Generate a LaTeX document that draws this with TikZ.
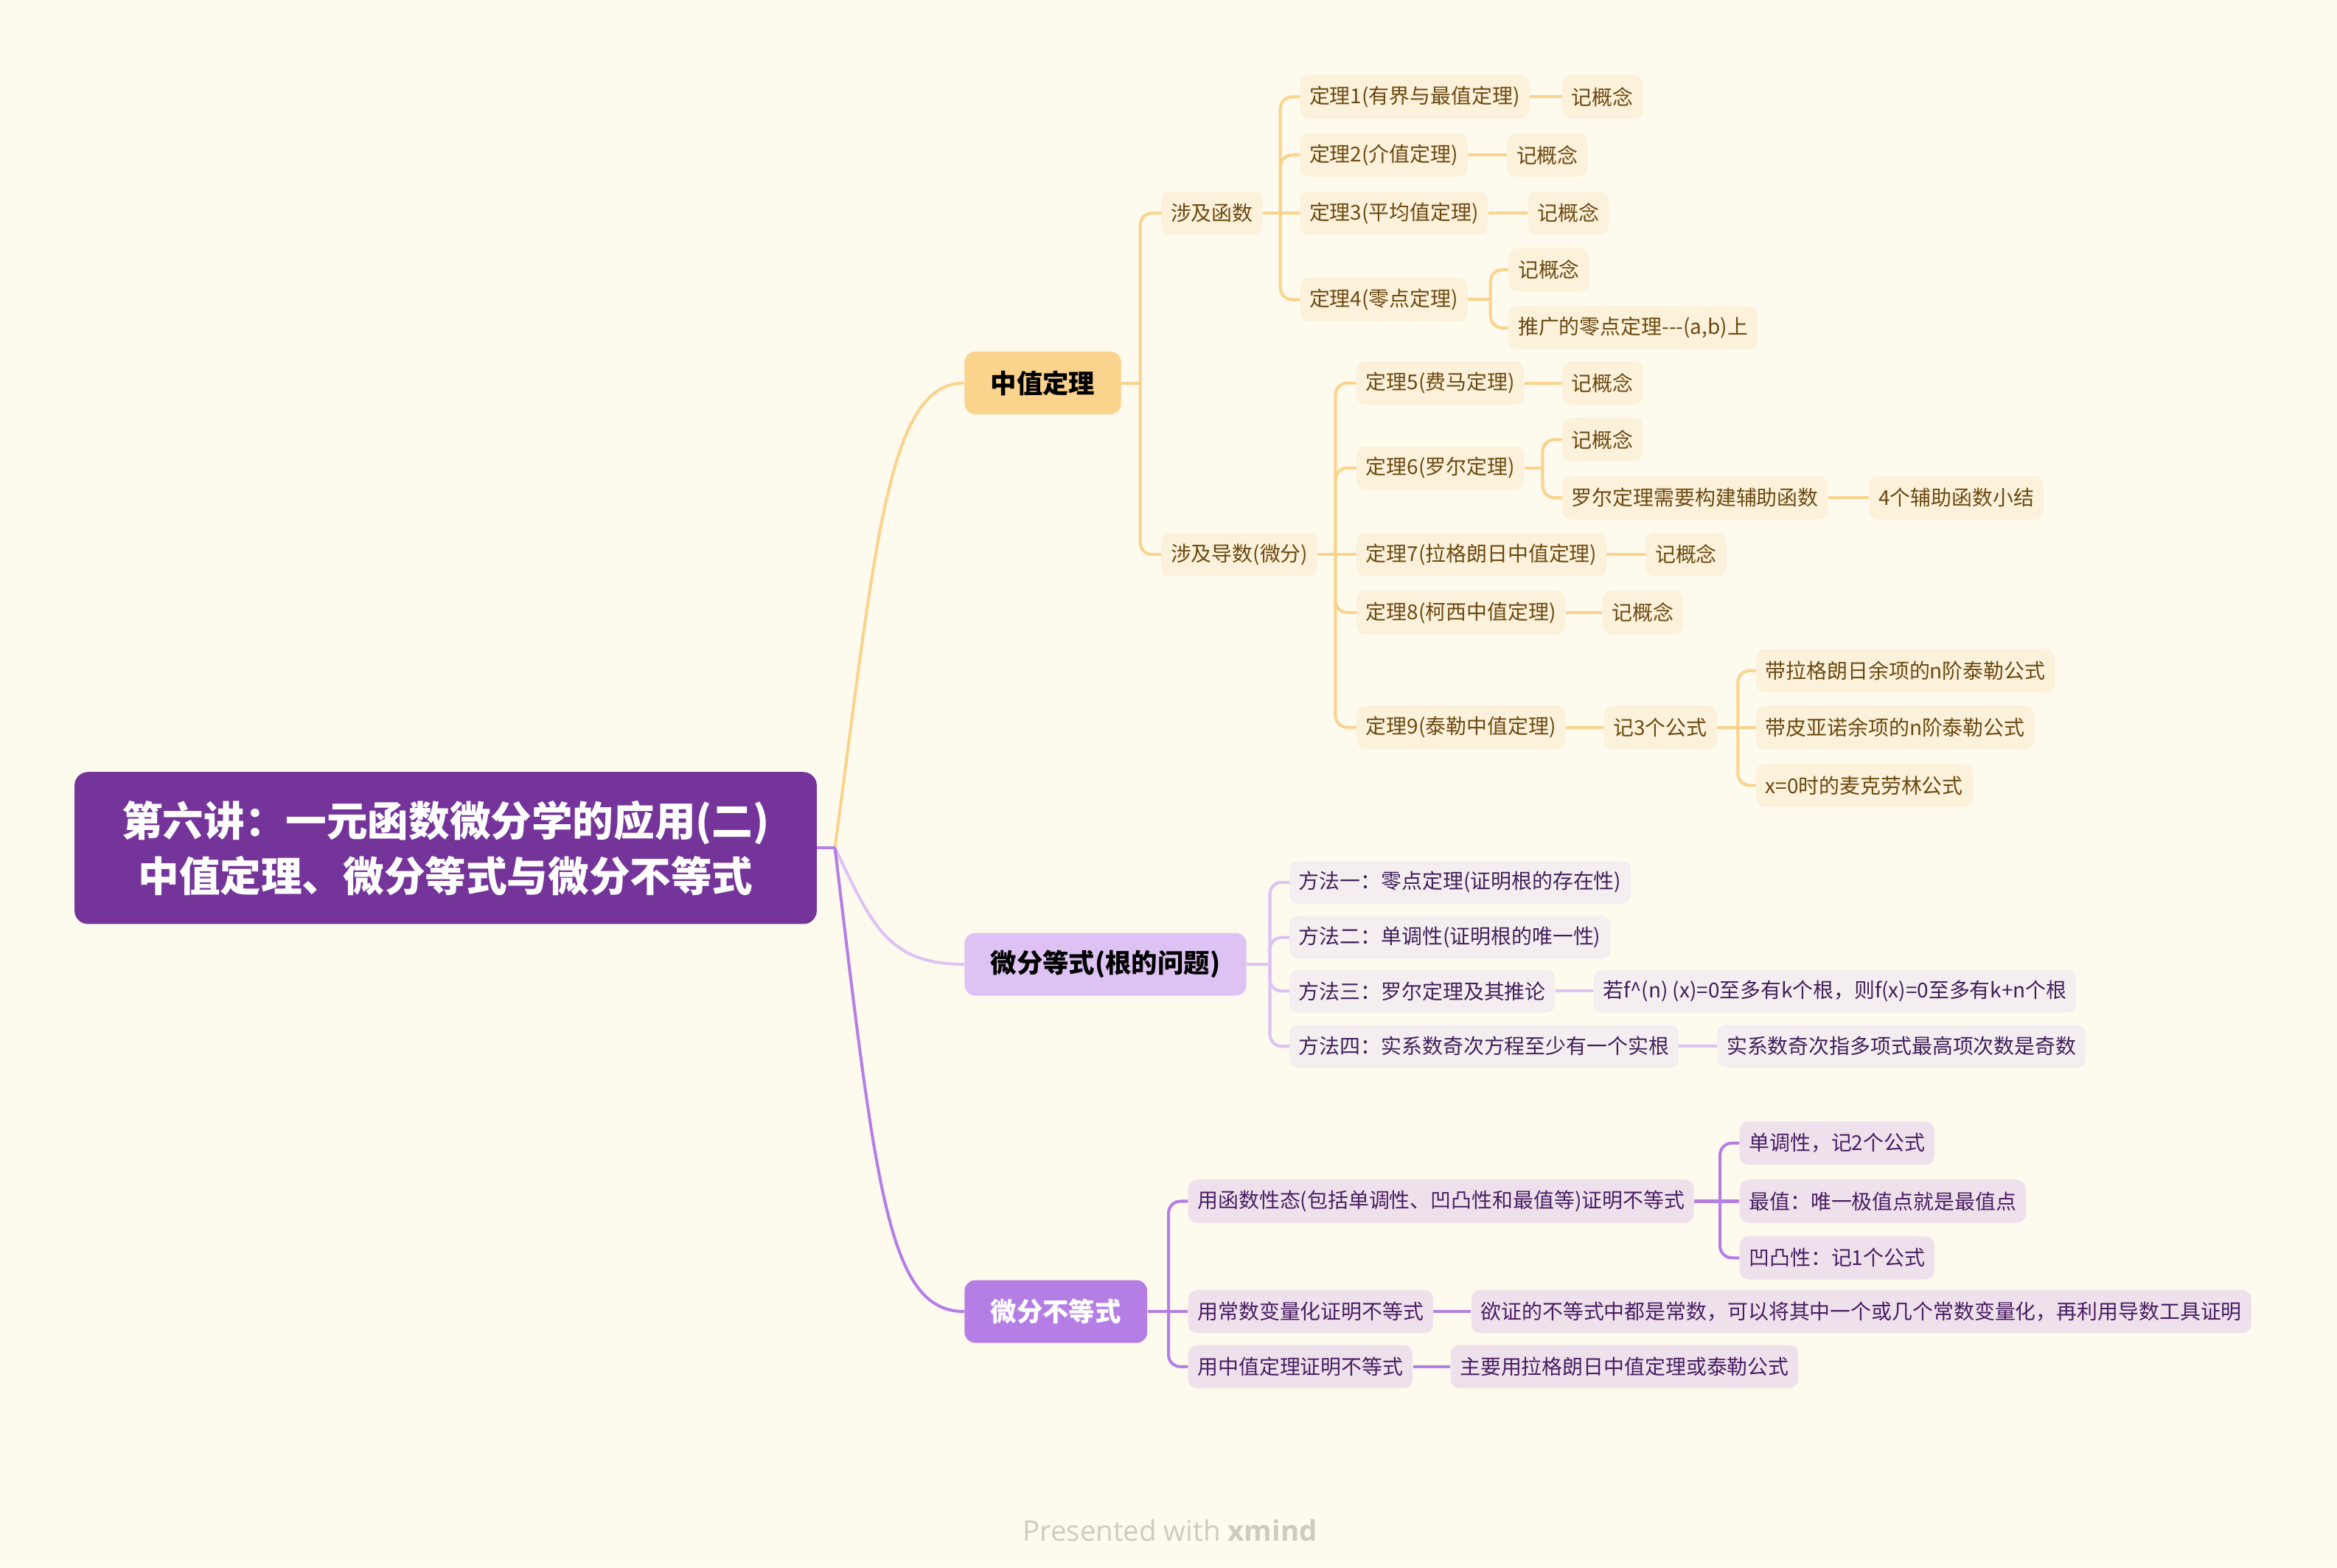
\documentclass[tikz,border=0pt]{standalone}
\usepackage{fontspec}
\setmainfont{Noto Sans CJK SC}
\newfontfamily\wmfont{Open Sans}
\definecolor{bgC}{HTML}{FEFAEE}
\definecolor{rootF}{HTML}{74349A}
\definecolor{mO}{HTML}{FAD38C}
\definecolor{mL}{HTML}{DDC2F3}
\definecolor{mP}{HTML}{B57EE5}
\definecolor{soF}{HTML}{FCF1DA}
\definecolor{soT}{HTML}{6B4A12}
\definecolor{slF}{HTML}{F5EEF1}
\definecolor{slT}{HTML}{40205A}
\definecolor{spF}{HTML}{EEE1EC}
\definecolor{spT}{HTML}{4A1E63}
\definecolor{wmC}{HTML}{CFCBC0}
\begin{document}
\begin{tikzpicture}[x=1pt,y=-1pt,
  every node/.style={inner sep=0pt},
  rootbox/.style={fill=rootF, text=white, rounded corners=9pt, minimum width=498pt, minimum height=102pt, align=center, font=\fontsize{27.5}{37}\selectfont\bfseries},
  mainbox/.style={anchor=west, rounded corners=7pt, minimum height=42pt, inner xsep=17.5pt, font=\fontsize{17.5}{20}\selectfont\bfseries},
  subbox/.style={anchor=west, rounded corners=6pt, minimum height=29pt, inner xsep=6.3pt, font=\fontsize{13.8}{16}\selectfont},
  subO/.style={subbox, fill=soF, text=soT},
  subL/.style={subbox, fill=slF, text=slT},
  subP/.style={subbox, fill=spF, text=spT},
  lnO/.style={draw=mO, line width=2pt},
  lnL/.style={draw=mL, line width=2pt},
  lnP/.style={draw=mP, line width=2pt},
  rc/.style={rounded corners=8pt}
]
\fill[bgC] (0,0) rectangle (1568,1051.6);
\useasboundingbox (0,0) rectangle (1568,1051.6);

% root and main branches
\node[rootbox] (R) at (299,569) {第六讲：一元函数微分学的应用(二)\\中值定理、微分等式与微分不等式};
\node[mainbox, fill=mO, text=black] (A) at (647,257) {中值定理};
\node[mainbox, fill=mL, text=black] (B) at (647,647) {微分等式(根的问题)};
\node[mainbox, fill=mP, text=white] (C) at (647,880) {微分不等式};

\draw[lnO] (R.east) ++(12,0) coordinate (Rj) .. controls (588,360) and (596,257) .. (A.west);
\draw[lnL] (Rj) .. controls (585,620) and (595,647) .. (B.west);
\draw[lnP] (Rj) .. controls (588,800) and (596,880) .. (C.west);
\draw[lnP] (R.east) -- (Rj);

% ---------- 中值定理 ----------
\node[subO] (A1) at (779,143) {涉及函数};
\node[subO] (A2) at (779,372) {涉及导数(微分)};
\path (A1.west) ++(-14,0) coordinate (tA);
\coordinate (jA) at (tA |- A.east);
\draw[lnO] (A.east) -- (jA);
\draw[lnO, rc] (jA) |- (A1.west);
\draw[lnO, rc] (jA) |- (A2.west);

\node[subO] (A11) at (872,65) {定理1(有界与最值定理)};
\node[subO] (A11a) at (1048,65) {记概念};
\node[subO] (A12) at (872,104) {定理2(介值定理)};
\node[subO] (A12a) at (1011,104) {记概念};
\node[subO] (A13) at (872,143) {定理3(平均值定理)};
\node[subO] (A13a) at (1025,143) {记概念};
\node[subO] (A14) at (872,201) {定理4(零点定理)};
\node[subO] (A14a) at (1012,181) {记概念};
\node[subO] (A14b) at (1012,220) {推广的零点定理\mbox{-}\mbox{-}\mbox{-}(a,b)上};

\path (A11.west) ++(-13,0) coordinate (tA1);
\coordinate (jA1) at (tA1 |- A1.east);
\draw[lnO] (A1.east) -- (A13.west);
\draw[lnO, rc] (jA1) |- (A11.west);
\draw[lnO, rc] (jA1) |- (A12.west);
\draw[lnO, rc] (jA1) |- (A14.west);
\draw[lnO] (A11.east) -- (A11a.west);
\draw[lnO] (A12.east) -- (A12a.west);
\draw[lnO] (A13.east) -- (A13a.west);
\path (A14a.west) ++(-12,0) coordinate (tA14);
\coordinate (jA14) at (tA14 |- A14.east);
\draw[lnO] (A14.east) -- (jA14);
\draw[lnO, rc] (jA14) |- (A14a.west);
\draw[lnO, rc] (jA14) |- (A14b.west);

\node[subO] (A21) at (910,257) {定理5(费马定理)};
\node[subO] (A21a) at (1048,257) {记概念};
\node[subO] (A22) at (910,314) {定理6(罗尔定理)};
\node[subO] (A22a) at (1048,295) {记概念};
\node[subO] (A22b) at (1048,334) {罗尔定理需要构建辅助函数};
\node[subO] (A22c) at (1254,334) {4个辅助函数小结};
\node[subO] (A23) at (910,372) {定理7(拉格朗日中值定理)};
\node[subO] (A23a) at (1104,372) {记概念};
\node[subO] (A24) at (910,411) {定理8(柯西中值定理)};
\node[subO] (A24a) at (1075,411) {记概念};
\node[subO] (A25) at (910,488) {定理9(泰勒中值定理)};
\node[subO] (A25a) at (1076,488) {记3个公式};
\node[subO] (A25b1) at (1178,450) {带拉格朗日余项的n阶泰勒公式};
\node[subO] (A25b2) at (1178,488) {带皮亚诺余项的n阶泰勒公式};
\node[subO] (A25b3) at (1178,527) {x=0时的麦克劳林公式};

\path (A21.west) ++(-14,0) coordinate (tA2);
\coordinate (jA2) at (tA2 |- A2.east);
\draw[lnO] (A2.east) -- (A23.west);
\draw[lnO, rc] (jA2) |- (A21.west);
\draw[lnO, rc] (jA2) |- (A22.west);
\draw[lnO, rc] (jA2) |- (A24.west);
\draw[lnO, rc] (jA2) |- (A25.west);
\draw[lnO] (A21.east) -- (A21a.west);
\path (A22a.west) ++(-13,0) coordinate (tA22);
\coordinate (jA22) at (tA22 |- A22.east);
\draw[lnO] (A22.east) -- (jA22);
\draw[lnO, rc] (jA22) |- (A22a.west);
\draw[lnO, rc] (jA22) |- (A22b.west);
\draw[lnO] (A22b.east) -- (A22c.west);
\draw[lnO] (A23.east) -- (A23a.west);
\draw[lnO] (A24.east) -- (A24a.west);
\draw[lnO] (A25.east) -- (A25a.west);
\path (A25b1.west) ++(-12,0) coordinate (tA25);
\coordinate (jA25) at (tA25 |- A25a.east);
\draw[lnO] (A25a.east) -- (A25b2.west);
\draw[lnO, rc] (jA25) |- (A25b1.west);
\draw[lnO, rc] (jA25) |- (A25b3.west);

% ---------- 微分等式 ----------
\node[subL] (B1) at (865,592) {方法一：零点定理(证明根的存在性)};
\node[subL] (B2) at (865,629) {方法二：单调性(证明根的唯一性)};
\node[subL] (B3) at (865,665) {方法三：罗尔定理及其推论};
\node[subL] (B3a) at (1069,665) {若f\textasciicircum(n) (x)=0至多有k个根，则f(x)=0至多有k+n个根};
\node[subL] (B4) at (865,702) {方法四：实系数奇次方程至少有一个实根};
\node[subL] (B4a) at (1152,702) {实系数奇次指多项式最高项次数是奇数};

\path (B1.west) ++(-13,0) coordinate (tB);
\coordinate (jB) at (tB |- B.east);
\draw[lnL] (B.east) -- (jB);
\draw[lnL, rc] (jB) |- (B1.west);
\draw[lnL, rc] (jB) |- (B2.west);
\draw[lnL, rc] (jB) |- (B3.west);
\draw[lnL, rc] (jB) |- (B4.west);
\draw[lnL] (B3.east) -- (B3a.west);
\draw[lnL] (B4.east) -- (B4a.west);

% ---------- 微分不等式 ----------
\node[subP] (C1) at (797,806) {用函数性态(包括单调性、凹凸性和最值等)证明不等式};
\node[subP] (C1a) at (1167,767) {单调性，记2个公式};
\node[subP] (C1b) at (1167,806) {最值：唯一极值点就是最值点};
\node[subP] (C1c) at (1167,844) {凹凸性：记1个公式};
\node[subP] (C2) at (797,880) {用常数变量化证明不等式};
\node[subP] (C2a) at (987,880) {欲证的不等式中都是常数，可以将其中一个或几个常数变量化，再利用导数工具证明};
\node[subP] (C3) at (797,917) {用中值定理证明不等式};
\node[subP] (C3a) at (973,917) {主要用拉格朗日中值定理或泰勒公式};

\path (C1.west) ++(-13,0) coordinate (tC);
\coordinate (jC) at (tC |- C.east);
\draw[lnP] (C.east) -- (C2.west);
\draw[lnP, rc] (jC) |- (C1.west);
\draw[lnP, rc] (jC) |- (C3.west);
\path (C1a.west) ++(-13,0) coordinate (tC1);
\coordinate (jC1) at (tC1 |- C1.east);
\draw[lnP] (C1.east) -- (C1b.west);
\draw[lnP, rc] (jC1) |- (C1a.west);
\draw[lnP, rc] (jC1) |- (C1c.west);
\draw[lnP] (C2.east) -- (C2a.west);
\draw[lnP] (C3.east) -- (C3a.west);

% watermark
\node[font=\wmfont\fontsize{19}{22}\selectfont, text=wmC] (wm) at (785,1027) {Presented with \textbf{xmind}};
\end{tikzpicture}
\end{document}
